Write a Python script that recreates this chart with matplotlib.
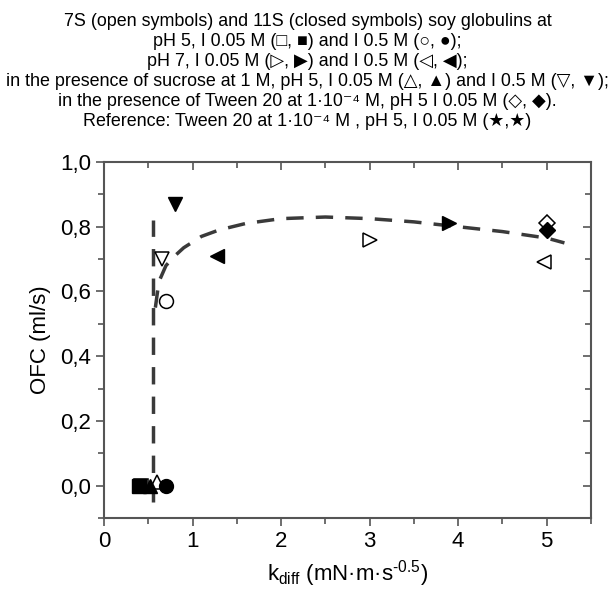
import numpy as np
import matplotlib
matplotlib.use("Agg")
import matplotlib.pyplot as plt
from matplotlib.ticker import MultipleLocator, FuncFormatter

plt.rcParams['font.family'] = ['Liberation Sans', 'DejaVu Sans']
plt.rcParams['mathtext.fontset'] = 'custom'
plt.rcParams['mathtext.rm'] = 'Liberation Sans'
plt.rcParams['mathtext.it'] = 'Liberation Sans'
plt.rcParams['axes.unicode_minus'] = False

# data points: open = 7S, closed = 11S
kdiff_open = [0.42, 0.70, 3.00, 4.97, 0.60, 0.65, 5.00]
ofc_open = [0.00, 0.57, 0.76, 0.69, 0.01, 0.70, 0.81]
kdiff_closed = [0.40, 0.70, 3.90, 1.28, 0.52, 0.80, 5.00]
ofc_closed = [0.00, 0.00, 0.81, 0.71, 0.00, 0.87, 0.79]
markers = ['s', 'o', '>', '<', '^', 'v', 'D']

# dashed guide lines
vline_x = [0.55, 0.55]
vline_y = [-0.05, 0.82]
curve_x = [0.58, 0.62, 0.70, 0.80, 0.90, 1.10, 1.30, 1.60, 2.00, 2.50, 3.00, 3.50, 4.00, 4.50, 5.00, 5.20]
curve_y = [0.55, 0.63, 0.68, 0.71, 0.735, 0.77, 0.79, 0.81, 0.825, 0.83, 0.825, 0.815, 0.80, 0.785, 0.765, 0.75]

title_lines = [
    "7S (open symbols) and 11S (closed symbols) soy globulins at",
    "pH 5, I 0.05 M (□, ■) and I 0.5 M (○, ●);",
    "pH 7, I 0.05 M (▷, ▶) and I 0.5 M (◁, ◀);",
    "in the presence of sucrose at 1 M, pH 5, I 0.05 M (△, ▲) and I 0.5 M (▽, ▼);",
    "in the presence of Tween 20 at 1·10⁻⁴ M, pH 5 I 0.05 M (◇, ◆).",
    "Reference: Tween 20 at 1·10⁻⁴ M , pH 5, I 0.05 M (★,★)",
]

fig = plt.figure(figsize=(6.15, 5.93), dpi=100)
ax = fig.add_axes([104 / 615, 1 - 518 / 593, 487 / 615, 356 / 593])

line_color = '#3a3a3a'
ax.plot(vline_x, vline_y, color=line_color, lw=2.5, dashes=(5, 3.5), zorder=1)
ax.plot(curve_x, curve_y, color=line_color, lw=2.5, dashes=(5, 3.5), zorder=1)

for x, y, m in zip(kdiff_open, ofc_open, markers):
    ms = 8.5 if m == 'D' else 10
    ax.plot(x, y, marker=m, ms=ms, color='black', mfc='white', mec='black', mew=1.1, ls='none', zorder=3)
for x, y, m in zip(kdiff_closed, ofc_closed, markers):
    ms = 8.5 if m == 'D' else 10
    ax.plot(x, y, marker=m, ms=ms, color='black', mfc='black', mec='black', ls='none', zorder=4)

ax.set_xlim(0, 5.5)
ax.set_ylim(-0.1, 1.0)
ax.xaxis.set_major_locator(MultipleLocator(1))
ax.xaxis.set_minor_locator(MultipleLocator(0.5))
ax.yaxis.set_major_locator(MultipleLocator(0.2))
ax.yaxis.set_minor_locator(MultipleLocator(0.1))
ax.yaxis.set_major_formatter(FuncFormatter(lambda v, p: f"{v:.1f}".replace('.', ',').replace('-0,0', '0,0')))

spine_color = '#555555'
for s in ax.spines.values():
    s.set_color(spine_color)
    s.set_linewidth(1.5)
ax.tick_params(which='both', direction='out', color=spine_color, width=1.2, labelsize=16)
ax.tick_params(which='major', length=6)
ax.tick_params(which='minor', length=4)

top = ax.secondary_xaxis('top')
top.xaxis.set_major_locator(MultipleLocator(1))
top.xaxis.set_minor_locator(MultipleLocator(0.5))
top.tick_params(which='both', direction='in', labeltop=False, color=spine_color, width=1.2)
top.tick_params(which='major', length=6)
top.tick_params(which='minor', length=4)
top.spines['top'].set_visible(False)
right = ax.secondary_yaxis('right')
right.yaxis.set_major_locator(MultipleLocator(0.2))
right.yaxis.set_minor_locator(MultipleLocator(0.1))
right.tick_params(which='both', direction='in', labelright=False, color=spine_color, width=1.2)
right.tick_params(which='major', length=6)
right.tick_params(which='minor', length=4)
right.spines['right'].set_visible(False)

ax.set_ylabel("OFC (ml/s)", fontsize=16, labelpad=6)
ax.set_xlabel("k$_{\\mathrm{diff}}$ (mN·m·s$^{\\text{-0.5}}$)", fontsize=16, labelpad=4)

for i, t in enumerate(title_lines):
    fig.text(0.5, 1 - (21 + 20 * i) / 593, t, ha='center', va='center', fontsize=12.9)

fig.savefig("out.png", dpi=100, facecolor='white')
